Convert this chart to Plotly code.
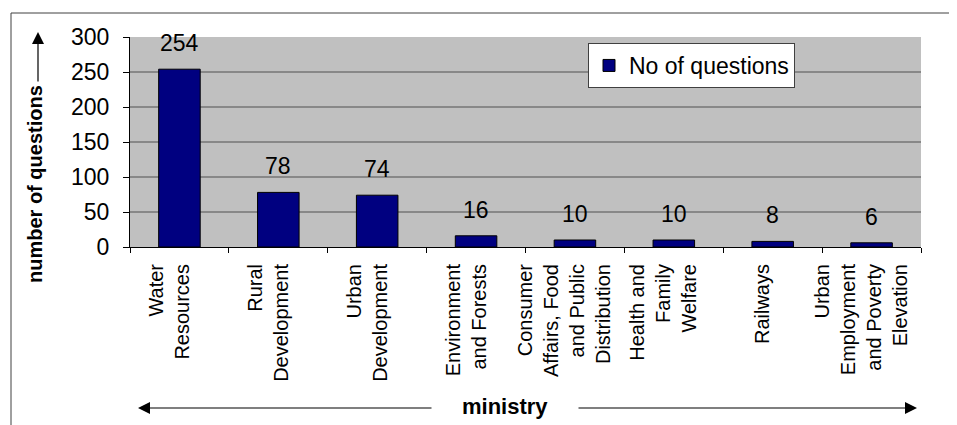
import plotly.graph_objects as go

categories = [
    "Water<br>Resources",
    "Rural<br>Development",
    "Urban<br>Development",
    "Environment<br>and Forests",
    "Consumer<br>Affairs, Food<br>and Public<br>Distribution",
    "Health and<br>Family<br>Welfare",
    "Railways",
    "Urban<br>Employment<br>and Poverty<br>Elevation",
]
questions = [254, 78, 74, 16, 10, 10, 8, 6]
y_ticks = [0, 50, 100, 150, 200, 250, 300]
grid_vals = [50, 100, 150, 200, 250]

FONT = "Liberation Sans, Arial, sans-serif"

# page offset of the plotly div (body margin)
OFF = 8
W, H = 957 - OFF, 425 - OFF
# plot area in page pixels: x 130..921, y 37..247
L, T = 130 - OFF, 37 - OFF
R = W - (921 - OFF)
B = H - (247 - OFF)
PW, PH = W - L - R, H - T - B


def px(xp):
    return (xp - OFF - L) / PW


def py(yp):
    return 1 - (yp - OFF - T) / PH


fig = go.Figure()
fig.add_trace(go.Bar(
    x=categories,
    y=questions,
    name="No of questions",
    marker=dict(color="#000080", line=dict(color="#000000", width=1)),
    width=0.42,
    showlegend=True,
))

annotations = []
for c, v in zip(categories, questions):
    annotations.append(dict(
        x=c, y=v, xref="x", yref="y", text=str(v), showarrow=False,
        yanchor="bottom", yshift=11, font=dict(size=23, color="black", family=FONT),
    ))

# axis titles
annotations.append(dict(
    x=px(35), y=py(184), xref="paper", yref="paper", text="<b>number of questions</b>",
    textangle=-90, showarrow=False, xanchor="center", yanchor="middle",
    font=dict(size=20, color="black", family=FONT),
))
annotations.append(dict(
    x=px(505), y=py(406), xref="paper", yref="paper", text="<b>ministry</b>",
    showarrow=False, xanchor="center", yanchor="middle",
    font=dict(size=22, color="black", family=FONT),
))
# arrows
arrow_style = dict(showarrow=True, arrowhead=2, arrowsize=2.0, arrowwidth=1.2,
                   arrowcolor="black", text="", xref="paper", yref="paper")
annotations.append(dict(x=px(38), y=py(32), ax=0, ay=51, **arrow_style))
annotations.append(dict(x=px(138), y=py(408), ax=295, ay=0, **arrow_style))
annotations.append(dict(x=px(917), y=py(408), ax=-340, ay=0, **arrow_style))

shapes = []
for g in grid_vals:
    shapes.append(dict(type="line", xref="paper", yref="y", x0=0, x1=1, y0=g, y1=g,
                       line=dict(color="#505050", width=1), layer="below"))
# outer chart border (left and top visible)
shapes.append(dict(type="line", xref="paper", yref="paper", x0=px(11), x1=px(11),
                   y0=py(13), y1=py(440), line=dict(color="#404040", width=1)))
shapes.append(dict(type="line", xref="paper", yref="paper", x0=px(11), x1=px(970),
                   y0=py(13), y1=py(13), line=dict(color="#404040", width=1)))

fig.update_layout(
    width=W, height=H,
    margin=dict(l=L, r=R, t=T, b=B, autoexpand=False),
    paper_bgcolor="white",
    plot_bgcolor="#C0C0C0",
    font=dict(family=FONT, color="black"),
    legend=dict(
        x=px(588), y=py(43), xanchor="left", yanchor="top",
        bgcolor="white", bordercolor="#404040", borderwidth=1,
        font=dict(size=23, color="black", family=FONT),
    ),
    annotations=annotations,
    shapes=shapes,
    xaxis=dict(
        type="category", tickson="boundaries", ticks="outside", ticklen=5,
        tickcolor="black", showline=True, linecolor="black", linewidth=1,
        tickangle=-90, tickfont=dict(size=20, color="black", family=FONT),
        ticklabelshift=-10, ticklabelstandoff=8,
        showgrid=False,
    ),
    yaxis=dict(
        range=[0, 300], tickvals=y_ticks, ticks="outside", ticklen=6,
        tickcolor="black", showline=True, linecolor="black", linewidth=1,
        tickfont=dict(size=23, color="black", family=FONT),
        ticklabelstandoff=9,
        showgrid=False, zeroline=False,
    ),
)

fig.write_html("out.html")
